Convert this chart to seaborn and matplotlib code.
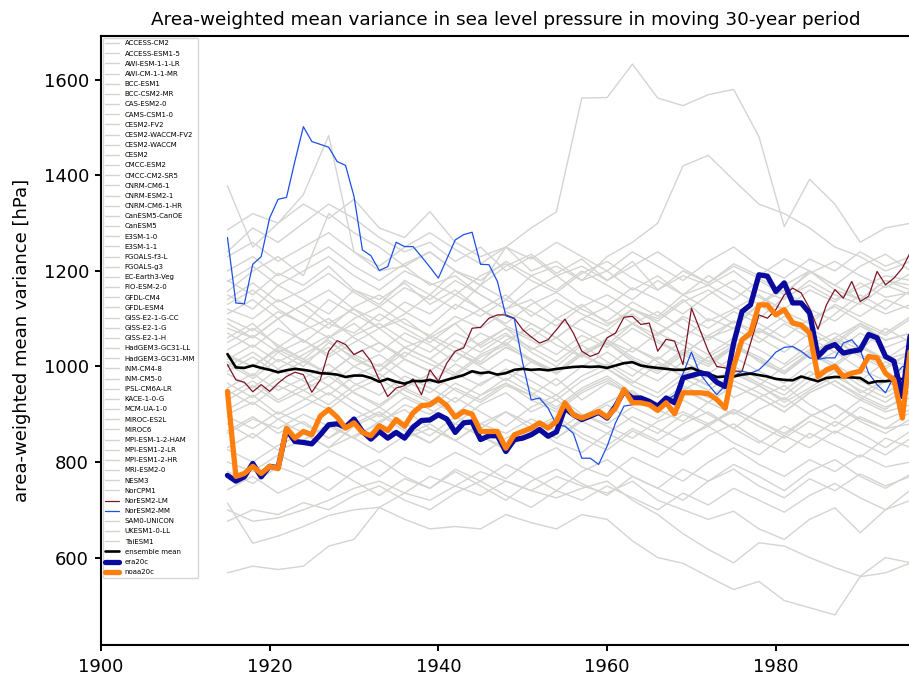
import matplotlib
matplotlib.use("Agg")
import matplotlib.pyplot as plt
import seaborn as sns

# ---------------- data ----------------
years = list(range(1915, 1997))
grey_years = [1915, 1918, 1921, 1924, 1927, 1930, 1933, 1936, 1939, 1942, 1945, 1948, 1951, 1954,
              1957, 1960, 1963, 1966, 1969, 1972, 1975, 1978, 1981, 1984, 1987, 1990, 1993, 1996]

access_cm2 = [1180,1150,1195,1170,1210,1160,1140,1175,1130,1160,1120,1150,1105,1140,1110,1085,1120,1100,1140,1095,1120,1150,1115,1090,1130,1105,1140,1120]
access_esm1_5 = [1060,1090,1040,1075,1100,1060,1030,1070,1045,1010,1050,1080,1035,1060,1020,1055,1030,1070,1045,1010,1040,1075,1050,1020,1060,1035,1080,1050]
awi_esm_1_1_lr = [940,970,930,960,990,945,920,955,985,950,925,960,940,975,930,965,945,910,950,980,935,960,925,955,990,945,970,940]
awi_cm_1_1_mr = [1010,980,1030,1000,1050,1020,990,1040,1060,1030,1070,1045,1090,1060,1100,1075,1120,1090,1060,1100,1080,1130,1095,1070,1110,1150,1120,1160]
bcc_esm1 = [880,850,890,860,830,875,900,865,840,880,855,830,870,895,860,835,870,845,880,905,870,840,875,850,885,860,830,865]
bcc_csm2_mr = [1130,1160,1120,1090,1140,1110,1080,1100,1060,1090,1040,1070,1030,1000,1045,1010,980,1020,990,960,1000,975,950,990,960,930,970,945]
cas_esm2_0 = [1378,1250,1300,1360,1483,1240,1200,1210,1170,1190,1150,1120,1140,1100,1130,1090,1110,1070,1100,1060,1080,1050,1090,1060,1030,1070,1040,1060]
cams_csm1_0 = [1080,1060,1100,1050,1090,1120,1080,1110,1150,1120,1170,1250,1290,1324,1562,1563,1633,1562,1546,1569,1580,1481,1293,1392,1340,1260,1290,1300]
cesm2_fv2 = [1150,1120,1170,1140,1110,1160,1130,1180,1150,1200,1170,1140,1190,1210,1180,1230,1260,1300,1420,1442,1390,1340,1320,1290,1250,1230,1200,1220]
cesm2_waccm_fv2 = [1240,1290,1260,1300,1340,1310,1270,1240,1260,1220,1250,1200,1230,1190,1210,1180,1220,1160,1190,1170,1140,1180,1150,1200,1170,1140,1180,1160]
cesm2_waccm = [990,1020,985,1010,1040,1000,975,1015,990,1030,1000,970,1010,985,1025,995,965,1005,980,1020,990,960,1000,1035,995,970,1010,985]
cesm2 = [910,940,900,930,960,925,895,935,910,880,920,945,905,930,895,925,950,910,885,925,900,935,960,920,890,930,905,920]
cmcc_esm2 = [1090,1060,1100,1130,1090,1070,1110,1080,1050,1090,1120,1085,1060,1100,1075,1045,1090,1115,1080,1055,1095,1070,1105,1080,1050,1090,1065,1100]
cmcc_cm2_sr5 = [830,860,825,845,880,850,820,855,880,845,815,850,875,840,820,860,835,810,850,875,840,815,855,830,865,840,815,850]
cnrm_cm6_1 = [742,770,735,760,790,760,730,765,745,780,750,720,760,785,755,730,770,745,720,760,785,750,725,765,740,775,750,770]
cnrm_esm2_1 = [800,780,815,790,825,800,770,810,790,820,795,765,805,830,790,770,810,785,760,800,830,795,770,805,780,815,790,800]
cnrm_cm6_1_hr = [1200,1230,1190,1220,1250,1210,1180,1215,1240,1200,1170,1210,1235,1195,1225,1180,1210,1240,1205,1175,1215,1190,1225,1200,1170,1210,1235,1200]
canesm5_canoe = [965,935,975,950,920,960,985,950,925,965,940,975,945,915,955,980,945,920,960,935,970,945,915,950,980,950,925,960]
canesm5 = [1035,1065,1030,1055,1020,1050,1080,1040,1015,1055,1030,1065,1040,1010,1050,1075,1040,1015,1055,1025,1060,1035,1005,1045,1070,1040,1015,1050]
e3sm_1_0 = [714,630,645,665,688,700,705,680,660,665,660,690,673,660,690,680,635,600,588,560,533,550,510,495,480,560,568,589]
e3sm_1_1 = [568,582,575,582,624,638,705,735,720,750,730,760,740,725,745,760,720,690,650,617,589,631,624,600,579,561,600,589]
fgoals_f3_l = [700,676,683,700,720,745,760,735,770,750,780,760,740,770,750,735,760,720,700,680,697,660,638,680,704,652,700,742]
fgoals_g3 = [1286,1320,1300,1340,1310,1350,1290,1270,1324,1260,1230,1250,1200,1220,1180,1200,1160,1190,1150,1170,1200,1160,1140,1180,1150,1130,1170,1150]
ec_earth3_veg = [1020,1000,1035,1010,985,1025,1050,1015,990,1030,1005,1040,1015,985,1025,1000,1040,1010,980,1020,1050,1010,985,1025,1000,1040,1015,1000]
fio_esm_2_0 = [900,925,890,915,945,910,880,920,900,935,905,875,915,940,900,880,915,890,930,900,870,910,935,900,875,915,890,910]
gfdl_cm4 = [1110,1140,1100,1130,1160,1120,1095,1135,1110,1150,1120,1090,1130,1155,1120,1095,1135,1105,1150,1120,1090,1130,1160,1120,1095,1135,1110,1130]
gfdl_esm4 = [1157,1200,1230,1190,1320,1280,1250,1210,1240,1200,1180,1220,1190,1160,1200,1170,1140,1180,1150,1190,1160,1130,1170,1200,1160,1140,1180,1170]
giss_e2_1_g_cc = [860,890,870,900,875,850,885,910,870,845,880,905,870,850,885,860,895,870,845,880,905,875,850,885,860,895,870,880]
giss_e2_1_g = [950,920,960,935,910,950,975,940,915,955,930,965,940,910,950,975,940,915,955,925,960,935,905,945,970,935,910,950]
giss_e2_1_h = [1000,1030,995,1025,1055,1015,990,1030,1005,980,1020,1045,1010,985,1025,1050,1010,985,1025,1000,1040,1015,985,1030,1005,1045,1015,1030]
hadgem3_gc31_ll = [1070,1040,1080,1055,1025,1065,1090,1055,1030,1070,1045,1080,1055,1025,1065,1040,1080,1050,1025,1065,1095,1060,1030,1070,1045,1085,1055,1070]
hadgem3_gc31_mm = [826,800,835,860,830,855,880,850,870,845,880,860,890,865,900,875,850,885,905,880,910,885,860,895,920,890,870,905]
inm_cm4_8 = [1230,1260,1220,1250,1280,1240,1210,1250,1280,1245,1215,1250,1225,1260,1230,1200,1240,1210,1180,1220,1250,1210,1185,1225,1200,1240,1210,1230]
inm_cm5_0 = [985,955,995,970,940,980,1005,970,945,985,960,995,970,940,980,1005,970,945,985,960,995,965,940,980,1005,970,945,975]
ipsl_cm6a_lr = [1120,1100,1140,1110,1080,1125,1150,1115,1085,1130,1105,1140,1115,1085,1125,1150,1120,1095,1135,1160,1125,1100,1145,1170,1140,1165,1190,1180]
kace_1_0_g = [930,960,925,950,980,945,915,955,930,900,940,965,930,905,945,970,935,910,950,925,960,935,905,945,970,940,915,935]
mcm_ua_1_0 = [676,700,690,715,700,730,750,720,700,735,760,730,705,740,720,750,725,700,735,710,745,720,695,730,755,725,700,720]
miroc_es2l = [1050,1080,1045,1015,1060,1090,1050,1020,1065,1040,1010,1055,1080,1045,1020,1060,1090,1055,1025,1065,1040,1080,1050,1020,1060,1090,1055,1070]
miroc6 = [895,870,905,880,850,890,915,880,855,895,870,905,880,850,890,920,885,860,900,875,910,885,855,895,920,885,860,890]
mpi_esm_1_2_ham = [1005,975,1015,990,960,1000,1025,990,965,1005,980,1015,990,960,1000,1030,995,970,1010,985,1020,990,965,1005,1030,995,970,1000]
mpi_esm1_2_lr = [955,985,950,975,1005,965,940,980,955,925,965,990,955,930,970,995,960,935,975,950,985,960,930,970,995,960,935,965]
mpi_esm1_2_hr = [1025,1000,1040,1015,985,1025,1050,1015,990,1030,1005,1040,1015,985,1025,1050,1015,990,1030,1005,1040,1015,985,1025,1055,1020,995,1030]
mri_esm2_0 = [1140,1175,1135,1160,1195,1155,1125,1165,1140,1180,1150,1120,1160,1190,1150,1125,1165,1140,1110,1150,1180,1145,1120,1160,1135,1175,1145,1155]
nesm3 = [780,755,790,770,740,780,805,770,745,785,760,795,770,740,780,805,770,745,785,760,795,770,740,780,805,770,745,775]
norcpm1 = [1100,1075,1115,1090,1060,1100,1125,1090,1065,1105,1080,1115,1090,1060,1100,1125,1090,1065,1105,1080,1115,1090,1060,1100,1125,1095,1070,1105]
sam0_unicon = [1178,1210,1170,1200,1230,1190,1160,1200,1175,1150,1190,1215,1180,1155,1195,1220,1185,1160,1200,1175,1210,1185,1155,1195,1220,1190,1165,1195]
ukesm1_0_ll = [865,895,860,885,850,880,905,870,840,880,855,825,865,890,850,825,865,840,815,855,880,845,820,860,835,810,850,830]
taiesm1 = [1015,1045,1010,1035,1065,1025,1000,1040,1015,985,1025,1050,1015,990,1030,1055,1020,995,1035,1010,1045,1020,990,1030,1055,1025,1000,1030]

noresm2_lm = [1004,972,967,947,962,948,965,979,988,983,946,972,1032,1054,1046,1025,1034,1011,972,937,
              955,960,974,941,993,969,1007,1032,1039,1080,1082,1101,1108,1108,1101,1077,1062,1049,1056,1077,
              1099,1070,1032,1021,1028,1060,1070,1103,1105,1088,1091,1032,1057,1053,1004,1122,1077,1032,1000,997,
              990,990,1049,1108,1101,1119,1150,1164,1154,1122,1078,1129,1161,1143,1178,1136,1147,1199,1171,1185,
              1206,1241]
noresm2_mm = [1270,1133,1131,1214,1230,1311,1350,1354,1430,1502,1471,1465,1459,1429,1421,1356,1244,1232,1201,1209,
              1260,1251,1251,1230,1208,1185,1225,1265,1276,1281,1214,1213,1178,1106,1100,1007,930,934,913,878,
              875,860,808,808,795,833,882,917,920,930,925,912,930,940,985,1030,985,962,941,960,
              979,990,986,993,1010,1030,1040,1042,1032,1018,1015,1018,1018,1049,1056,1035,986,962,945,979,
              1000,1000]
ensemble_mean = [1026,998,997,1002,997,993,988,992,995,993,990,986,985,983,978,981,981,976,968,974,
                 968,964,970,969,972,967,972,977,982,990,986,988,983,986,993,995,993,994,992,995,
                 997,999,1000,999,1000,997,1002,1007,1009,1002,999,997,995,993,993,997,990,985,978,979,
                 979,983,985,982,979,974,972,971,979,974,969,976,978,978,977,976,965,969,969,972,
                 974,976]
era20c = [772,760,769,797,769,791,788,868,843,841,838,857,878,880,873,890,864,848,864,850,
          862,850,873,887,888,899,890,862,882,884,847,855,855,822,847,850,857,868,854,863,
          913,899,889,896,904,892,917,948,934,934,927,917,934,924,976,981,986,984,967,958,
          1049,1115,1129,1192,1189,1157,1175,1133,1133,1112,1021,1039,1046,1028,1032,1035,1067,1060,1021,1011,
          937,1077]
noaa20c = [948,770,776,791,776,791,786,871,850,864,857,896,910,894,871,882,862,855,876,866,
           889,875,903,918,920,932,918,894,906,900,864,864,864,829,857,864,871,882,871,885,
           924,899,892,899,906,894,913,952,924,924,920,908,924,901,945,945,945,943,931,913,
           1000,1056,1070,1129,1129,1108,1119,1091,1087,1070,979,993,1000,979,986,990,1021,1018,986,972,
           892,1046]

models = [
    ("ACCESS-CM2", access_cm2), ("ACCESS-ESM1-5", access_esm1_5), ("AWI-ESM-1-1-LR", awi_esm_1_1_lr),
    ("AWI-CM-1-1-MR", awi_cm_1_1_mr), ("BCC-ESM1", bcc_esm1), ("BCC-CSM2-MR", bcc_csm2_mr),
    ("CAS-ESM2-0", cas_esm2_0), ("CAMS-CSM1-0", cams_csm1_0), ("CESM2-FV2", cesm2_fv2),
    ("CESM2-WACCM-FV2", cesm2_waccm_fv2), ("CESM2-WACCM", cesm2_waccm), ("CESM2", cesm2),
    ("CMCC-ESM2", cmcc_esm2), ("CMCC-CM2-SR5", cmcc_cm2_sr5), ("CNRM-CM6-1", cnrm_cm6_1),
    ("CNRM-ESM2-1", cnrm_esm2_1), ("CNRM-CM6-1-HR", cnrm_cm6_1_hr), ("CanESM5-CanOE", canesm5_canoe),
    ("CanESM5", canesm5), ("E3SM-1-0", e3sm_1_0), ("E3SM-1-1", e3sm_1_1), ("FGOALS-f3-L", fgoals_f3_l),
    ("FGOALS-g3", fgoals_g3), ("EC-Earth3-Veg", ec_earth3_veg), ("FIO-ESM-2-0", fio_esm_2_0),
    ("GFDL-CM4", gfdl_cm4), ("GFDL-ESM4", gfdl_esm4), ("GISS-E2-1-G-CC", giss_e2_1_g_cc),
    ("GISS-E2-1-G", giss_e2_1_g), ("GISS-E2-1-H", giss_e2_1_h), ("HadGEM3-GC31-LL", hadgem3_gc31_ll),
    ("HadGEM3-GC31-MM", hadgem3_gc31_mm), ("INM-CM4-8", inm_cm4_8), ("INM-CM5-0", inm_cm5_0),
    ("IPSL-CM6A-LR", ipsl_cm6a_lr), ("KACE-1-0-G", kace_1_0_g), ("MCM-UA-1-0", mcm_ua_1_0),
    ("MIROC-ES2L", miroc_es2l), ("MIROC6", miroc6), ("MPI-ESM-1-2-HAM", mpi_esm_1_2_ham),
    ("MPI-ESM1-2-LR", mpi_esm1_2_lr), ("MPI-ESM1-2-HR", mpi_esm1_2_hr), ("MRI-ESM2-0", mri_esm2_0),
    ("NESM3", nesm3), ("NorCPM1", norcpm1), ("NorESM2-LM", noresm2_lm), ("NorESM2-MM", noresm2_mm),
    ("SAM0-UNICON", sam0_unicon), ("UKESM1-0-LL", ukesm1_0_ll), ("TaiESM1", taiesm1),
]

# ---------------- styling ----------------
sns.set_theme(style="ticks")
plt.rcParams["font.family"] = ["DejaVu Sans"]
plt.rcParams.update({
    "axes.edgecolor": "black", "axes.linewidth": 1.5,
    "xtick.color": "black", "ytick.color": "black",
    "xtick.major.width": 1.4, "ytick.major.width": 1.4,
    "xtick.major.size": 4, "ytick.major.size": 4,
    "xtick.major.pad": 5.5, "ytick.major.pad": 4.5,
    "text.color": "black", "axes.labelcolor": "black",
})

GREY = "#d3d5d1"
special = {
    "NorESM2-LM": dict(color="#7d1424", lw=0.9, z=3),
    "NorESM2-MM": dict(color="#1e4fe6", lw=0.9, z=3),
}

fig = plt.figure(figsize=(9.09, 6.79), dpi=100)
ax = fig.add_axes([0.111, 0.0501, 0.891, 0.897])

for name, vals in models:
    if name in special:
        s = special[name]
        sns.lineplot(x=years, y=vals, ax=ax, color=s["color"], linewidth=s["lw"],
                     label=name, zorder=s["z"])
    else:
        sns.lineplot(x=grey_years, y=vals, ax=ax, color=GREY, linewidth=1.0,
                     label=name, zorder=2)

sns.lineplot(x=years, y=ensemble_mean, ax=ax, color="black", linewidth=1.9,
             label="ensemble mean", zorder=4)
sns.lineplot(x=years, y=era20c, ax=ax, color="#0a0a9e", linewidth=3.8,
             label="era20c", zorder=5)
sns.lineplot(x=years, y=noaa20c, ax=ax, color="#ff7f0e", linewidth=3.8,
             label="noaa20c", zorder=6)

ax.set_xlim(1900, 1996)
ax.set_ylim(417, 1692)
ax.set_xticks([1900, 1920, 1940, 1960, 1980])
ax.set_yticks([600, 800, 1000, 1200, 1400, 1600])
ax.tick_params(labelsize=13)
ax.set_xlabel("")
ax.set_ylabel("area-weighted mean variance [hPa]", fontsize=13, labelpad=9)
ax.set_title("Area-weighted mean variance in sea level pressure in moving 30-year period",
             fontsize=13.2, pad=8)

leg = ax.legend(loc="upper left", fontsize=5, labelspacing=0.6, borderaxespad=0.25,
                frameon=True, framealpha=0.8, edgecolor="0.8", fancybox=True,
                handlelength=2.0, handletextpad=0.8, borderpad=0.4)

fig.savefig("out.png", dpi=100)
